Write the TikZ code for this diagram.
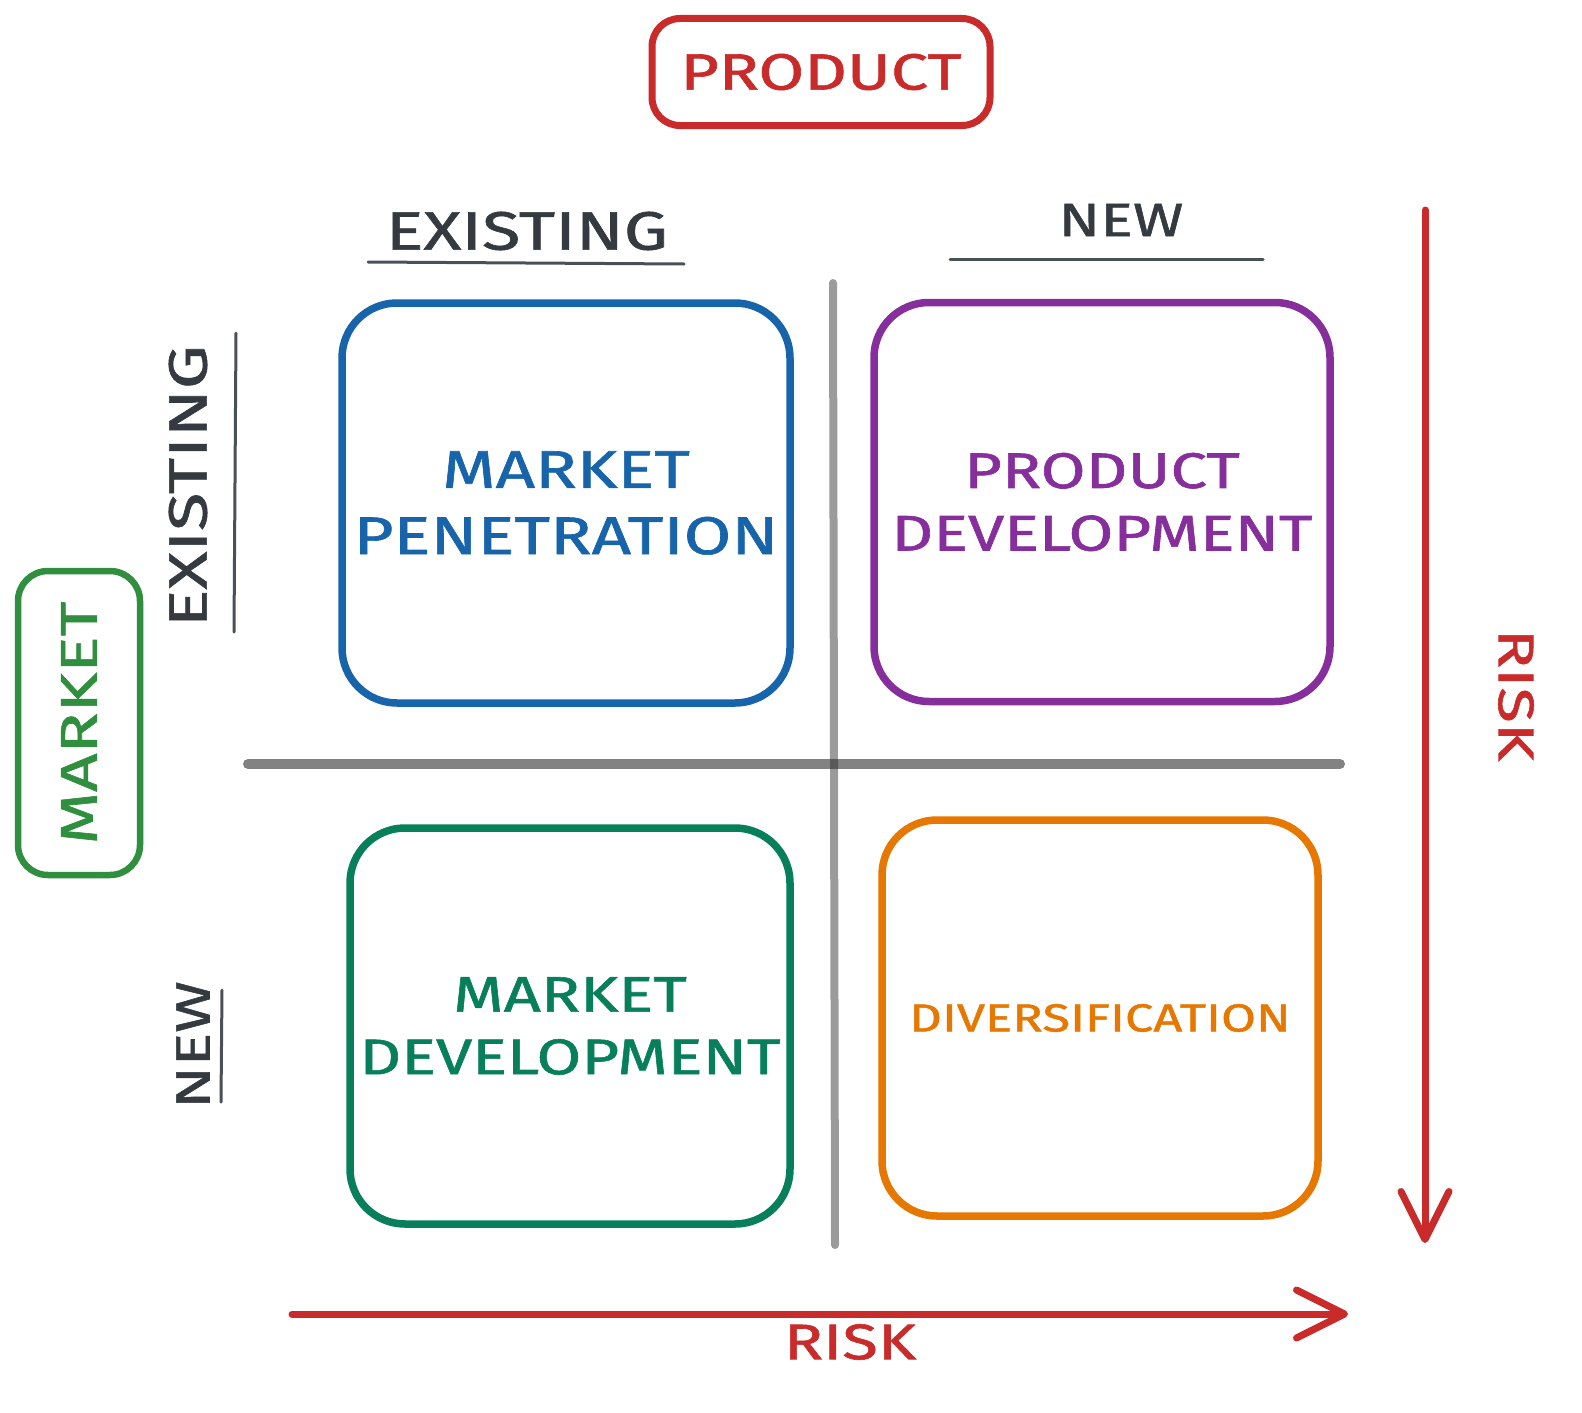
\documentclass[tikz,border=0pt]{standalone}
\usepackage{fontspec}
\newfontfamily\hand[FakeStretch=1.3,FakeBold=1.2]{Fira Sans}
\usetikzlibrary{arrows.meta}
\definecolor{cred}{HTML}{C92A2A}
\definecolor{cblue}{HTML}{1864AB}
\definecolor{cviolet}{HTML}{862E9C}
\definecolor{cteal}{HTML}{087F5B}
\definecolor{corange}{HTML}{E67700}
\definecolor{cgreen}{HTML}{2F8F3F}
\definecolor{cdark}{HTML}{343A40}
\definecolor{cline}{HTML}{495057}
\definecolor{cgrey}{HTML}{2E2E2E}
\tikzset{
  quad/.style={draw=#1, text=#1, line width=7.5pt, rounded corners=55pt, align=center, inner sep=0pt},
  lbl/.style={text=#1, inner sep=0pt, align=center},
  hfont/.style={font=\hand\fontsize{#1pt}{\dimexpr#1pt*5/4\relax}\selectfont},
  underl/.style={draw=cline, line width=3pt, line cap=round},
  axis/.style={draw=cgrey, line cap=round},
  riskarrow/.style={draw=cred, line width=7pt, line cap=round, line join=round,
    -{Straight Barb[length=48pt, width=48pt, line cap=round, line join=round]}},
}
\begin{document}
\begin{tikzpicture}[x=1pt, y=-1pt]
\useasboundingbox (0,0) rectangle (1582,1413);
% grey axes
\draw[axis, line width=10pt, draw opacity=0.6] (248,764) -- (1340,764);
\draw[axis, line width=8pt, draw opacity=0.48] (833,283) -- (835,1245);
% title boxes
\node[draw=cred, line width=7pt, rounded corners=28pt, minimum width=338pt, minimum height=107pt, lbl=cred, hfont=51] (product) at (821,72) {PRODUCT};
\node[draw=cgreen, line width=6.5pt, rounded corners=30pt, lbl=cgreen, hfont=52, rotate=90, minimum width=304pt, minimum height=122pt] (market) at (79,723) {MARKET};
% column labels
\node[lbl=cdark, hfont=54] (colexist) at (527,231) {EXISTING};
\node[lbl=cdark, hfont=47] (colnew) at (1121,220) {NEW};
\draw[underl] (368,262) -- (684,264);
\draw[underl] (950,259) -- (1263,259);
% row labels
\node[lbl=cdark, hfont=54, rotate=90] (rowexist) at (188,486) {EXISTING};
\node[lbl=cdark, hfont=48, rotate=90] (rownew) at (193,1045) {NEW};
\draw[underl] (236,333) -- (234,632);
\draw[underl] (222,990) -- (221,1102);
% quadrants
\node[quad=cblue, minimum width=448pt, minimum height=400pt, hfont=53] (mp) at (566,503) {MARKET\\PENETRATION};
\node[quad=cviolet, minimum width=456pt, minimum height=399pt, hfont=50] (pd) at (1102,502) {PRODUCT\\DEVELOPMENT};
\node[quad=cteal, minimum width=440pt, minimum height=396pt, hfont=50] (md) at (570,1026) {MARKET\\DEVELOPMENT};
\node[quad=corange, minimum width=436pt, minimum height=396pt, hfont=39] (dv) at (1100,1018) {DIVERSIFICATION};
% risk arrows
\coordinate (vtop) at (1425,210);
\coordinate (vbot) at (1425,1243);
\coordinate (hleft) at (292,1314);
\coordinate (hright) at (1348,1314);
\draw[riskarrow] (vtop) -- (vbot);
\draw[riskarrow] (hleft) -- (hright);
\node[lbl=cred, hfont=50, rotate=-90] (riskv) at (1516,695) {RISK};
\node[lbl=cred, hfont=50] (riskh) at (850,1342) {RISK};
\end{tikzpicture}
\end{document}
